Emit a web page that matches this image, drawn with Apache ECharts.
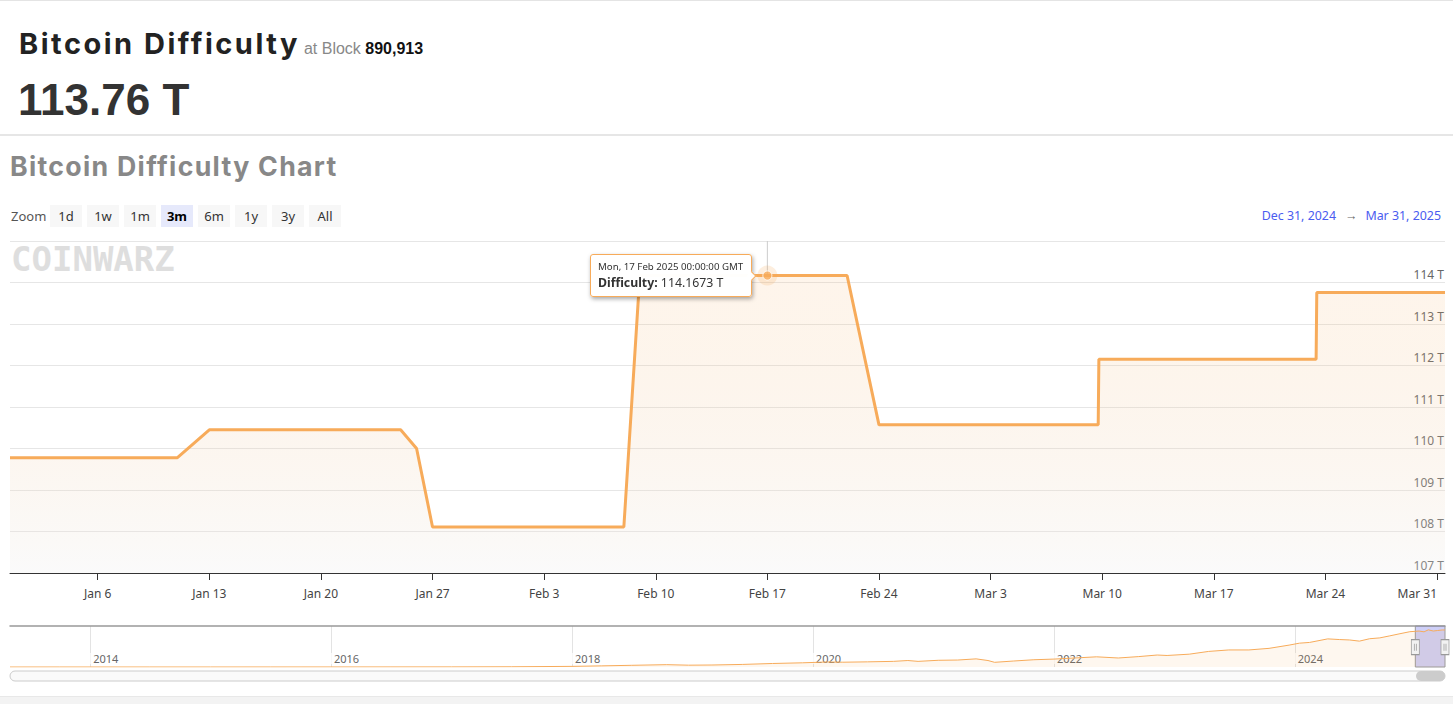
<!DOCTYPE html>
<html>
<head>
<meta charset="utf-8">
<script src="https://cdn.jsdelivr.net/npm/echarts@6/dist/echarts.min.js"></script>
<style>
html,body{margin:0;padding:0;background:#fff;width:1453px;height:704px;overflow:hidden;font-family:"Noto Sans",sans-serif;}
#chart{position:absolute;left:0;top:0;width:1453px;height:704px;}
.ov{position:absolute;z-index:3;white-space:nowrap;}
#topline{left:0;top:0;width:1453px;height:1px;background:#e4e4e4;}
#sep{left:0;top:134px;width:1453px;height:2px;background:#e6e6e6;}
#bottomband{left:0;top:696px;width:1453px;height:8px;background:#f3f3f3;border-top:1px solid #e8e8e8;}
#head{left:19px;top:29px;line-height:29px;}
#head .h{font-family:Inter,sans-serif;font-weight:700;font-size:29px;letter-spacing:2.5px;color:#222;}
#head .at{font-family:"Liberation Sans",Arial,sans-serif;font-size:16px;color:#888;margin-left:4px;}
#head .blk{font-family:"Liberation Sans",Arial,sans-serif;font-size:16px;color:#111;font-weight:700;}
#big{left:18px;top:78px;line-height:44px;font-family:"Liberation Sans",Arial,sans-serif;font-weight:700;font-size:44px;color:#333;}
#ctitle{left:10px;top:153px;line-height:27px;font-family:Inter,sans-serif;font-weight:700;font-size:26.7px;letter-spacing:1.3px;color:#888;}
#zoomlbl{left:11px;top:205px;line-height:22px;font-size:13px;color:#555;}
.btn{position:absolute;z-index:3;top:205px;width:32px;height:22px;line-height:22px;text-align:center;background:#f7f7f7;font-size:13px;color:#333;}
.btn.sel{background:#e6e9fb;color:#000;font-weight:700;}
#range{right:12px;top:205px;line-height:22px;font-size:12.4px;color:#4a5cf0;}
#range .arr{color:#666;margin:0 8px 0 9px;}
</style>
</head>
<body>
<div id="chart"></div>
<div class="ov" id="topline"></div>
<div class="ov" id="sep"></div>
<div class="ov" id="bottomband"></div>
<div class="ov" id="head"><span class="h">Bitcoin Difficulty</span><span class="at">at Block </span><span class="blk">890,913</span></div>
<div class="ov" id="big">113.76 T</div>
<div class="ov" id="ctitle">Bitcoin Difficulty Chart</div>
<div class="ov" id="zoomlbl">Zoom</div>
<div id="btns"></div>
<div class="ov" id="range"><span>Dec 31, 2024</span><span class="arr">→</span><span>Mar 31, 2025</span></div>
<script>
// ---------- data ----------
const zoomButtons = ['1d','1w','1m','3m','6m','1y','3y','All'];
const selectedButton = '3m';

// main series (3 months), difficulty in T
const mainDates = ['2024-12-31T12:00:00Z','2025-01-11T00:00:00Z','2025-01-13T00:00:00Z','2025-01-25T00:00:00Z','2025-01-26T00:00:00Z','2025-01-27T00:00:00Z','2025-02-08T00:00:00Z','2025-02-09T00:00:00Z','2025-02-22T00:00:00Z','2025-02-24T00:00:00Z','2025-03-09T18:00:00Z','2025-03-09T19:00:00Z','2025-03-23T10:00:00Z','2025-03-23T11:00:00Z','2025-03-31T12:00:00Z'];
const mainValues = [109.78,109.78,110.45,110.45,110.0,108.11,108.11,114.1673,114.1673,110.57,110.57,112.15,112.15,113.76,113.76];

// hovered point
const hoverDate = '2025-02-17T00:00:00Z';
const hoverValue = 114.1673;

// axis ticks
const xTickDates = ['2025-01-06','2025-01-13','2025-01-20','2025-01-27','2025-02-03','2025-02-10','2025-02-17','2025-02-24','2025-03-03','2025-03-10','2025-03-17','2025-03-24','2025-03-31'];
const yMin = 107, yMax = 115, yStep = 1;

// navigator (full history), difficulty in T
const navDates = ['2013-05-03','2013-10-01','2014-01-01','2014-07-01','2015-01-01','2015-07-01','2016-01-01','2016-07-01','2017-01-01','2017-07-01','2018-01-01','2018-04-01','2018-07-01','2018-10-15','2018-12-20','2019-03-01','2019-06-01','2019-09-01','2019-12-01','2020-02-15','2020-04-01','2020-06-15','2020-09-01','2020-10-15','2020-11-15','2021-01-15','2021-03-15','2021-05-10','2021-06-15','2021-07-05','2021-09-01','2021-11-01','2022-01-01','2022-03-01','2022-05-10','2022-07-15','2022-09-15','2022-11-10','2022-12-10','2023-02-15','2023-04-15','2023-06-15','2023-08-15','2023-10-15','2023-12-15','2024-01-15','2024-02-15','2024-04-10','2024-05-15','2024-06-15','2024-07-15','2024-08-15','2024-09-15','2024-10-15','2024-11-15','2024-12-15','2025-01-12','2025-01-27','2025-02-09','2025-02-24','2025-03-09','2025-03-23','2025-03-31'];
const navValues = [0.00001,0.00027,0.0014,0.017,0.041,0.052,0.11,0.21,0.31,0.71,1.93,3.5,5.2,7.2,5.6,6.1,7.9,10.8,12.9,15.5,14.7,15.8,17.3,19.9,17.3,20.6,21.4,25.0,19.9,14.4,18.4,22.3,24.3,27.5,31.3,27.7,32.0,36.8,35.4,39.4,47.9,52.4,52.4,57.3,67.3,73.2,75.5,86.4,84.4,83.1,79.5,86.9,89.5,95.7,102.3,108.5,110.45,108.11,114.17,110.57,112.15,113.76,113.76];
const navTickYears = ['2014','2016','2018','2020','2022','2024'];
const navSelection = ['2024-12-31T12:00:00Z','2025-03-31T12:00:00Z'];

// ---------- helpers ----------
const ts = s => Date.parse(s.length === 10 ? s + 'T00:00:00Z' : s);
const MONTHS = ['Jan','Feb','Mar','Apr','May','Jun','Jul','Aug','Sep','Oct','Nov','Dec'];

// buttons
const btnWrap = document.getElementById('btns');
zoomButtons.forEach((b, i) => {
  const d = document.createElement('div');
  d.className = 'btn' + (b === selectedButton ? ' sel' : '');
  d.style.left = (50 + i * 37) + 'px';
  d.textContent = b;
  btnWrap.appendChild(d);
});

const ORANGE = '#f7ab5a';
const mainData = mainDates.map((d, i) => [ts(d), mainValues[i]]);
const navData = navDates.map((d, i) => [ts(d), navValues[i]]);
const hoverTs = ts(hoverDate);
const xTicks = xTickDates.map(ts);
const navTicks = navTickYears.map(y => ts(y + '-01-01'));

const chart = echarts.init(document.getElementById('chart'), null, {renderer: 'svg'});
const option = {
  animation: false,
  grid: [
    {left: 10, top: 241, width: 1435, height: 332, containLabel: false, outerBoundsMode: 'none'},
    {left: 10, top: 626, width: 1435, height: 41, containLabel: false, outerBoundsMode: 'none'}
  ],
  xAxis: [
    {
      type: 'value', gridIndex: 0, scale: true,
      min: ts(navSelection[0]), max: ts(navSelection[1]),
      axisLine: {lineStyle: {color: '#333', width: 1}},
      axisTick: {show: true, length: 7, lineStyle: {color: '#333'}, customValues: xTicks},
      axisLabel: {
        customValues: xTicks, margin: 14, color: '#444', fontSize: 12,
        fontFamily: 'Noto Sans', alignMaxLabel: 'right',
        formatter: v => { const d = new Date(v); return MONTHS[d.getUTCMonth()] + ' ' + d.getUTCDate(); }
      },
      splitLine: {show: false}
    },
    {
      type: 'value', gridIndex: 1, scale: true,
      min: ts(navDates[0]), max: ts(navSelection[1]),
      axisLine: {show: false}, axisTick: {show: false, customValues: navTicks},
      splitLine: {show: true, lineStyle: {color: '#e3e3e3', width: 1}},
      axisLabel: {
        customValues: navTicks,
        inside: true, align: 'left', verticalAlign: 'bottom', margin: 3,
        color: '#666', fontSize: 11, fontFamily: 'Noto Sans',
        backgroundColor: 'rgba(255,255,255,0.75)', padding: [0, 1, 0, 3],
        formatter: v => String(new Date(v).getUTCFullYear())
      }
    },
    {
      type: 'value', gridIndex: 1, position: 'top', min: 0, max: 1,
      axisLine: {show: true, onZero: false, lineStyle: {color: '#999', width: 1.5}},
      axisTick: {show: false}, axisLabel: {show: false}, splitLine: {show: false}
    }
  ],
  yAxis: [
    {
      type: 'value', gridIndex: 0, position: 'right',
      min: yMin, max: yMax, interval: yStep,
      axisLine: {show: false}, axisTick: {show: false},
      splitLine: {lineStyle: {color: '#e6e6e6', width: 1}},
      axisLabel: {
        inside: true, margin: 1, showMaxLabel: false, color: '#666', fontSize: 12,
        fontFamily: 'Noto Sans', verticalAlign: 'bottom', padding: [0, 0, 2, 0],
        formatter: v => v + ' T'
      }
    },
    {type: 'value', gridIndex: 1, min: 0, max: 126, show: false}
  ],
  tooltip: {
    trigger: 'item', triggerOn: 'none', alwaysShowContent: true,
    position: 'left',
    backgroundColor: 'rgba(255,255,255,0.98)', borderColor: ORANGE, borderWidth: 1,
    padding: [5, 8, 5, 7],
    extraCssText: 'box-shadow:1px 2px 4px rgba(0,0,0,0.35);border-radius:3px;',
    formatter: p => {
      const d = new Date(p.value[0]).toUTCString();
      return '<div style="font-family:Noto Sans;font-size:9.7px;color:#333;line-height:14px">' + d + '</div>' +
             '<div style="font-family:Noto Sans;font-size:12.3px;color:#333;line-height:17px"><b>Difficulty:</b> ' + p.value[1] + ' T</div>';
    }
  },
  graphic: [
    {type: 'text', left: 11, top: 242, z: 0, silent: true,
     style: {text: 'COINWARZ', fontFamily: 'DejaVu Sans Mono', fontWeight: 'bold', fontSize: 34, fill: '#dedede'}},
    {type: 'rect', shape: {x: 10, y: 671, width: 1435, height: 10, r: 5}, silent: true,
     style: {fill: '#fafafa', stroke: '#cccccc', lineWidth: 1}},
    {type: 'rect', shape: {x: 1416, y: 671, width: 29, height: 10, r: 5}, silent: true,
     style: {fill: '#cccccc'}}
  ],
  series: [
    {
      name: 'Difficulty', type: 'line', xAxisIndex: 0, yAxisIndex: 0,
      data: mainData, showSymbol: false, silent: true,
      lineStyle: {color: ORANGE, width: 3}, itemStyle: {color: ORANGE},
      areaStyle: {
        origin: 'start',
        color: new echarts.graphic.LinearGradient(0, 0, 0, 1, [
          {offset: 0, color: 'rgba(247,171,90,0.17)'},
          {offset: 1, color: 'rgba(236,236,236,0.35)'}
        ])
      },
      z: 2
    },
    {
      name: 'crosshair', type: 'line', xAxisIndex: 0, yAxisIndex: 0, silent: true,
      data: [[hoverTs, yMax], [hoverTs, hoverValue]], showSymbol: false,
      lineStyle: {color: '#cccccc', width: 1}, z: 1
    },
    {
      name: 'halo', type: 'scatter', xAxisIndex: 0, yAxisIndex: 0, silent: true,
      data: [[hoverTs, hoverValue]], symbolSize: 20,
      itemStyle: {color: 'rgba(247,171,90,0.25)'}, z: 3
    },
    {
      name: 'Difficulty', type: 'scatter', xAxisIndex: 0, yAxisIndex: 0,
      data: [[hoverTs, hoverValue]], symbolSize: 9,
      itemStyle: {color: ORANGE, borderColor: '#fff', borderWidth: 1}, z: 4
    },
    {
      name: 'navigator', type: 'line', xAxisIndex: 1, yAxisIndex: 1, silent: true,
      data: navData, showSymbol: false,
      lineStyle: {color: ORANGE, width: 1}, areaStyle: {color: 'rgba(247,171,90,0.14)'},
      markArea: {
        silent: true,
        itemStyle: {color: 'rgba(105,110,230,0.33)', borderColor: '#999', borderWidth: 1},
        data: [[{xAxis: ts(navSelection[0])}, {xAxis: ts(navSelection[1])}]]
      },
      markPoint: {
        silent: true,
        symbol: 'path://M0 0 H8 V15 H0 Z M3 4 V11 M5 4 V11',
        symbolSize: [8, 15],
        itemStyle: {color: '#f2f2f2', borderColor: '#999', borderWidth: 1},
        label: {show: false},
        data: [{coord: [ts(navSelection[0]), 61]}, {coord: [ts(navSelection[1]), 61]}]
      }
    }
  ]
};
chart.setOption(option);
chart.dispatchAction({type: 'showTip', seriesIndex: 3, dataIndex: 0});
</script>
</body>
</html>
